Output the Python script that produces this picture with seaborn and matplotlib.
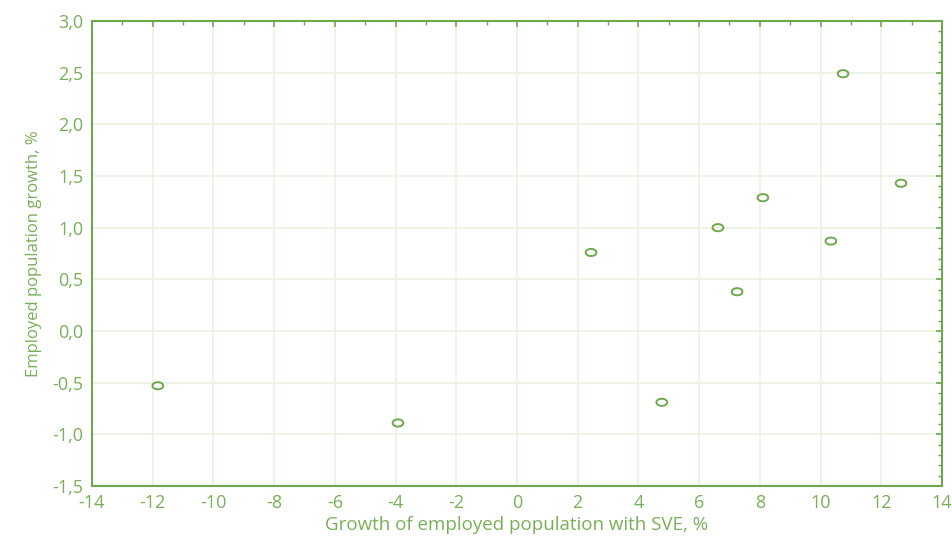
import matplotlib
matplotlib.use("Agg")
import matplotlib.pyplot as plt
import seaborn as sns
import pandas as pd
import numpy as np
from matplotlib.ticker import MultipleLocator, FuncFormatter

sve_growth = [-11.83, -3.92, 2.44, 4.77, 6.62, 7.25, 8.10, 10.34, 10.74, 12.65]
emp_growth = [-0.53, -0.89, 0.76, -0.69, 1.00, 0.38, 1.29, 0.87, 2.49, 1.43]

x_label = "Growth of employed population with SVE, %"
y_label = "Employed population growth, %"

df = pd.DataFrame({"x": sve_growth, "y": emp_growth})

sns.set_style("white")
plt.rcParams['font.family'] = ['Open Sans', 'DejaVu Sans']

green = "#6fa84c"
text_green = "#78b058"
grid_c = "#ebf1e4"

# wide rounded-diamond marker shape
t = np.linspace(0, 2 * np.pi, 41)
marker_verts = list(zip(1.5 * np.cos(t), 1.0 * np.sin(t)))

fig = plt.figure(figsize=(9.52, 5.36), dpi=100)
ax = fig.add_axes([0.0966, 0.0933, 0.8929, 0.8675])

sns.scatterplot(data=df, x="x", y="y", ax=ax, marker=marker_verts, s=60,
                facecolor="none", edgecolor=green, linewidth=1.4, zorder=3)

ax.set_xlim(-14, 14)
ax.set_ylim(-1.5, 3.0)
ax.xaxis.set_major_locator(MultipleLocator(2))
ax.xaxis.set_minor_locator(MultipleLocator(1))
ax.yaxis.set_major_locator(MultipleLocator(0.5))
ax.yaxis.set_minor_locator(MultipleLocator(0.1))
ax.xaxis.set_major_formatter(FuncFormatter(lambda v, p: f"{v:.0f}"))
ax.yaxis.set_major_formatter(FuncFormatter(lambda v, p: f"{v:.1f}".replace(".", ",")))

ax.grid(True, which="major", color=grid_c, linewidth=1.2)
for s in ax.spines.values():
    s.set_color(green)
    s.set_linewidth(1.5)

ax.tick_params(which="both", direction="in", color=green, top=True, right=True,
               labelcolor=text_green, labelsize=13)
ax.tick_params(which="major", length=4, width=1.2, pad=6)
ax.tick_params(which="minor", length=3, width=1.0)

ax.set_xlabel(x_label, color=text_green, fontsize=13.5, labelpad=3)
ax.set_ylabel(y_label, color=text_green, fontsize=12, labelpad=8)

fig.savefig("out.png", dpi=100, facecolor="white")
